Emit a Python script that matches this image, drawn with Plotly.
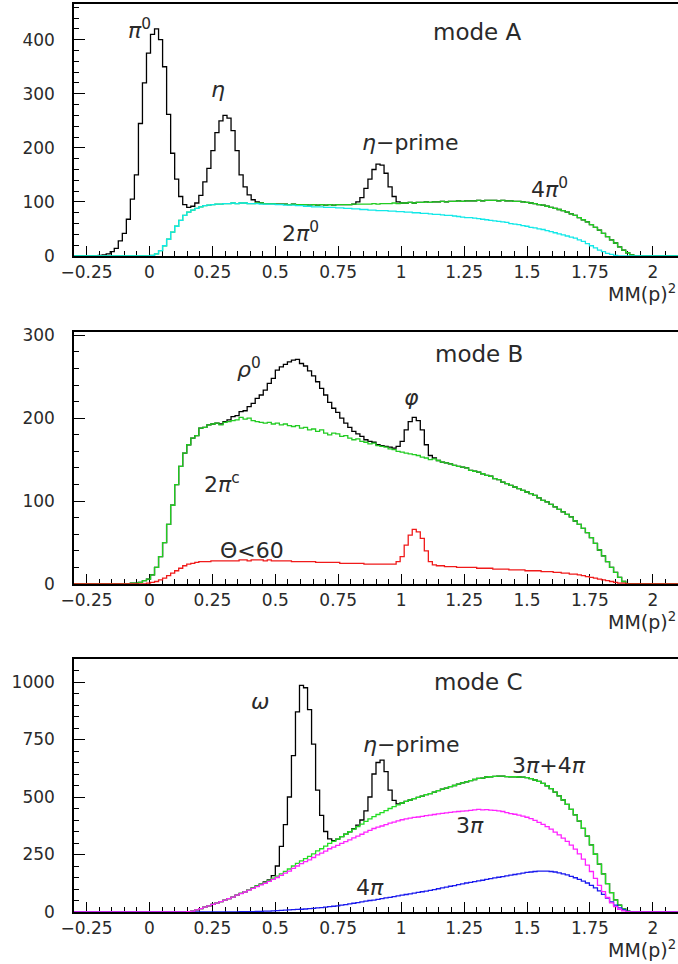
import plotly.graph_objects as go

# ---------------------------------------------------------------
# Missing-mass-squared spectra MM(p)^2, 150 bins from -0.3 to 2.1
# ---------------------------------------------------------------
x_lo, x_hi, n_bins = -0.3, 2.1, 150

# ---------------- mode A ----------------
# total background (2pi0 + 4pi0)
bkg_A = [
    0, 0, 0, 0, 0, 0, 0, 0, 0, 0,
    0, 0, 0, 0, 0, 0, 0, 0, 0, 1,
    4, 10, 19, 31, 44, 55, 66, 75, 81, 85,
    88, 91, 93, 94, 95, 96, 96, 97, 97, 98,
    97, 98, 98, 97, 97, 98, 98, 97, 97, 97,
    96, 96, 96, 95, 96, 95, 95, 95, 94, 95,
    94, 95, 94, 95, 94, 95, 95, 95, 95, 96,
    96, 96, 96, 96, 97, 96, 97, 97, 97, 98,
    97, 98, 98, 99, 98, 99, 99, 100, 99, 100,
    100, 101, 100, 101, 101, 102, 101, 102, 102, 102,
    103, 102, 103, 103, 103, 102, 103, 102, 102, 101,
    101, 100, 99, 98, 97, 95, 94, 92, 90, 88,
    86, 84, 81, 78, 75, 71, 67, 63, 58, 53,
    48, 42, 36, 30, 24, 17, 11, 6, 2, 0,
    0, 0, 0, 0, 0, 0, 0, 0, 0, 0,
]
# 2pi0 component
twopi0_A = [
    0, 0, 0, 0, 0, 0, 0, 0, 0, 0,
    0, 0, 0, 0, 0, 0, 0, 0, 0, 1,
    4, 10, 19, 31, 44, 55, 66, 75, 81, 85,
    88, 91, 93, 94, 95, 96, 96, 97, 97, 98,
    97, 98, 98, 97, 97, 97, 96, 96, 96, 96,
    95, 95, 94, 94, 94, 93, 93, 92, 92, 91,
    91, 91, 90, 90, 90, 89, 89, 88, 88, 87,
    87, 86, 86, 85, 85, 84, 84, 84, 83, 83,
    82, 82, 81, 81, 80, 80, 79, 79, 78, 77,
    77, 76, 75, 75, 74, 73, 72, 71, 71, 70,
    69, 68, 67, 66, 65, 64, 63, 62, 60, 59,
    58, 56, 55, 53, 52, 50, 49, 47, 45, 43,
    41, 39, 37, 35, 33, 30, 27, 23, 19, 15,
    11, 8, 5, 3, 1, 0, 0, 0, 0, 0,
    0, 0, 0, 0, 0, 0, 0, 0, 0, 0,
]
# resonance signal (pi0, eta, eta') above the background
signal_A = [
    0, 0, 0, 0, 0, 0, 1, 2, 4, 8,
    14, 28, 42, 68, 105, 150, 245, 320, 375, 409,
    416, 390, 331, 231, 146, 87, 44, 20, 9, 7,
    10, 21, 44, 68, 100, 132, 154, 163, 158, 134,
    98, 52, 30, 16, 7, 2, 0, 0, 0, 0,
    0, 0, 0, 0, 0, 0, 0, 0, 0, 0,
    0, 0, 0, 0, 0, 0, 0, 0, 0, 0,
    4, 12, 29, 46, 63, 74, 71, 56, 31, 12,
    3, 0, 0, 0, 0, 0, 0, 0, 0, 0,
    0, 0, 0, 0, 0, 0, 0, 0, 0, 0,
    0, 0, 0, 0, 0, 0, 0, 0, 0, 0,
    0, 0, 0, 0, 0, 0, 0, 0, 0, 0,
    0, 0, 0, 0, 0, 0, 0, 0, 0, 0,
    0, 0, 0, 0, 0, 0, 0, 0, 0, 0,
    0, 0, 0, 0, 0, 0, 0, 0, 0, 0,
]

# ---------------- mode B ----------------
# 2pi charged background
twopic_B = [
    0, 0, 0, 0, 0, 0, 0, 0, 0, 0,
    0, 0, 0, 0, 1, 1, 2, 4, 6, 11,
    20, 33, 50, 72, 95, 120, 142, 158, 168, 176,
    179, 188, 189, 192, 193, 194, 192, 195, 196, 197,
    198, 201, 199, 200, 197, 196, 195, 194, 195, 193,
    194, 192, 193, 191, 190, 191, 188, 189, 186, 187,
    184, 186, 182, 180, 182, 181, 178, 179, 176, 174,
    175, 172, 171, 169, 170, 167, 166, 165, 163, 162,
    160, 159, 158, 157, 156, 155, 153, 152, 150, 151,
    149, 147, 146, 145, 143, 142, 141, 140, 137, 136,
    135, 133, 131, 130, 127, 126, 123, 121, 119, 117,
    115, 113, 111, 109, 107, 104, 101, 99, 96, 93,
    90, 87, 84, 81, 76, 72, 67, 62, 56, 49,
    41, 34, 27, 20, 14, 8, 3, 0, 0, 0,
    0, 0, 0, 0, 0, 0, 0, 0, 0, 0,
]
# rho0 and phi signal above the 2pi background
signal_B = [
    0, 0, 0, 0, 0, 0, 0, 0, 0, 0,
    0, 0, 0, 0, 0, 0, 0, 0, 0, 0,
    0, 0, 0, 0, 0, 0, 0, 0, 0, 0,
    0, 0, 0, 0, 0, 0, 1, 1, 2, 5,
    5, 7, 10, 14, 21, 28, 33, 40, 47, 55,
    64, 70, 72, 77, 80, 80, 78, 74, 71, 64,
    60, 50, 46, 39, 30, 26, 22, 15, 13, 10,
    6, 6, 3, 3, 1, 1, 1, 1, 2, 2,
    6, 13, 28, 39, 45, 42, 33, 16, 5, 1,
    0, 0, 0, 0, 0, 0, 0, 0, 0, 0,
    0, 0, 0, 0, 0, 0, 0, 0, 0, 0,
    0, 0, 0, 0, 0, 0, 0, 0, 0, 0,
    0, 0, 0, 0, 0, 0, 0, 0, 0, 0,
    0, 0, 0, 0, 0, 0, 0, 0, 0, 0,
    0, 0, 0, 0, 0, 0, 0, 0, 0, 0,
]
# events with Theta < 60
theta60_B = [
    0, 0, 0, 0, 0, 0, 0, 0, 0, 0,
    0, 0, 0, 0, 0, 0, 0, 0, 1, 2,
    3, 5, 7, 10, 13, 16, 19, 22, 24, 25,
    26, 27, 27, 27, 28, 28, 28, 28, 28, 28,
    28, 29, 29, 28, 29, 29, 29, 28, 29, 28,
    28, 28, 28, 28, 27, 27, 27, 27, 27, 27,
    26, 26, 26, 26, 26, 26, 25, 25, 25, 25,
    25, 25, 24, 24, 24, 24, 24, 24, 24, 24,
    27, 33, 47, 59, 66, 63, 55, 40, 27, 23,
    22, 22, 21, 21, 21, 20, 20, 20, 20, 20,
    19, 19, 19, 19, 18, 18, 18, 18, 17, 17,
    17, 17, 16, 16, 16, 16, 15, 15, 15, 14,
    14, 13, 13, 12, 12, 11, 10, 9, 8, 7,
    6, 5, 4, 3, 2, 1, 1, 0, 0, 0,
    0, 0, 0, 0, 0, 0, 0, 0, 0, 0,
]

# ---------------- mode C ----------------
# 3pi component
threepi_C = [
    0, 0, 0, 0, 0, 0, 0, 0, 0, 0,
    0, 0, 0, 0, 0, 0, 0, 0, 0, 0,
    0, 0, 0, 0, 0, 0, 0, 0, 1, 4,
    9, 15, 21, 27, 33, 39, 45, 52, 58, 65,
    73, 80, 87, 95, 103, 110, 118, 125, 133, 142,
    150, 159, 169, 178, 190, 200, 210, 219, 227, 237,
    248, 256, 265, 275, 282, 290, 298, 306, 314, 322,
    330, 338, 347, 355, 363, 369, 374, 380, 386, 391,
    396, 401, 405, 408, 411, 413, 416, 419, 421, 424,
    427, 429, 431, 433, 435, 437, 439, 440, 442, 444,
    446, 444, 445, 443, 442, 440, 437, 432, 428, 425,
    421, 417, 412, 406, 398, 390, 381, 371, 360, 347,
    335, 321, 307, 291, 273, 253, 230, 204, 176, 146,
    116, 89, 63, 40, 23, 12, 5, 1, 0, 0,
    0, 0, 0, 0, 0, 0, 0, 0, 0, 0,
]
# 4pi component
fourpi_C = [
    0, 0, 0, 0, 0, 0, 0, 0, 0, 0,
    0, 0, 0, 0, 0, 0, 0, 0, 0, 0,
    0, 0, 0, 0, 0, 0, 0, 0, 0, 0,
    0, 0, 0, 0, 0, 0, 0, 0, 0, 0,
    0, 1, 1, 2, 2, 3, 3, 4, 4, 5,
    6, 7, 8, 9, 10, 11, 12, 13, 15, 16,
    18, 19, 21, 23, 25, 27, 30, 32, 35, 38,
    41, 44, 47, 50, 52, 55, 58, 61, 64, 67,
    70, 73, 76, 79, 82, 85, 88, 91, 94, 97,
    101, 105, 108, 112, 115, 119, 122, 126, 129, 132,
    135, 138, 142, 145, 148, 151, 154, 157, 160, 163,
    166, 169, 172, 174, 176, 178, 178, 178, 176, 174,
    170, 166, 161, 155, 149, 142, 134, 126, 116, 105,
    92, 77, 60, 44, 30, 18, 9, 3, 0, 0,
    0, 0, 0, 0, 0, 0, 0, 0, 0, 0,
]
# omega and eta' signal above the 3pi+4pi background
signal_C = [
    0, 0, 0, 0, 0, 0, 0, 0, 0, 0,
    0, 0, 0, 0, 0, 0, 0, 0, 0, 0,
    0, 0, 0, 0, 0, 0, 0, 0, 0, 0,
    0, 0, 0, 0, 0, 0, 0, 0, 0, 0,
    0, 0, 0, 0, 0, 0, 0, 2, 3, 11,
    44, 119, 203, 313, 480, 659, 763, 743, 638, 477,
    264, 145, 64, 20, 3, 0, 0, 0, 0, 2,
    7, 18, 46, 95, 185, 226, 228, 169, 80, 27,
    4, 0, 0, 0, 0, 0, 0, 0, 0, 0,
    0, 0, 0, 0, 0, 0, 0, 0, 0, 0,
    0, 0, 0, 0, 0, 0, 0, 0, 0, 0,
    0, 0, 0, 0, 0, 0, 0, 0, 0, 0,
    0, 0, 0, 0, 0, 0, 0, 0, 0, 0,
    0, 0, 0, 0, 0, 0, 0, 0, 0, 0,
    0, 0, 0, 0, 0, 0, 0, 0, 0, 0,
]

# axis ticks
x_tick_vals = [-0.25, 0, 0.25, 0.5, 0.75, 1, 1.25, 1.5, 1.75, 2]
x_tick_text = ["\u22120.25", "0", "0.25", "0.5", "0.75", "1", "1.25", "1.5", "1.75", "2"]
y_ticks_A = [0, 100, 200, 300, 400]
y_ticks_B = [0, 100, 200, 300]
y_ticks_C = [0, 250, 500, 750, 1000]
y_range_A = [0, 466]
y_range_B = [0, 304]
y_range_C = [0, 1100]

# derived histograms
total_A = [b + s for b, s in zip(bkg_A, signal_A)]
total_B = [b + s for b, s in zip(twopic_B, signal_B)]
sum34_C = [a + b for a, b in zip(threepi_C, fourpi_C)]
total_C = [b + s for b, s in zip(sum34_C, signal_C)]

edges = [x_lo + (x_hi - x_lo) * k / n_bins for k in range(n_bins + 1)]

W, H = 678, 964
FONT = "DejaVu Sans"
TXT = "#2a2a2a"

fig = go.Figure()


def hist(vals, color, xa, ya, width=1.3):
    fig.add_trace(go.Scatter(
        x=edges, y=list(vals) + [vals[-1]], mode="lines",
        line=dict(color=color, width=width, shape="hv"),
        xaxis=xa, yaxis=ya, hoverinfo="skip", showlegend=False))


# mode A
hist(total_A, "black", "x", "y")
hist(bkg_A, "#22cc22", "x", "y")
hist(twopi0_A, "#11e8e8", "x", "y")
# mode B
hist(total_B, "black", "x2", "y2")
hist(twopic_B, "#22cc22", "x2", "y2")
hist(theta60_B, "#f01a1a", "x2", "y2")
# mode C
hist(total_C, "black", "x3", "y3")
hist(sum34_C, "#22dd22", "x3", "y3")
hist(fourpi_C, "#1a1aee", "x3", "y3")
hist(threepi_C, "#ff22ff", "x3", "y3")


def px_domain_y(top, bottom):
    return [1 - bottom / H, 1 - top / H]


x_dom = [74 / W, 1.0]
panels = [
    ("", px_domain_y(4, 256), y_range_A, y_ticks_A, 20),
    ("2", px_domain_y(332, 584), y_range_B, y_ticks_B, 20),
    ("3", px_domain_y(659, 912), y_range_C, y_ticks_C, 50),
]

layout = dict(
    width=W, height=H,
    margin=dict(l=0, r=0, t=0, b=0, pad=0, autoexpand=False),
    paper_bgcolor="white", plot_bgcolor="white", showlegend=False,
)
for suf, ydom, yr, yt, ymin in panels:
    layout["xaxis" + suf] = dict(
        domain=x_dom, range=[x_lo, x_hi], anchor="y" + suf,
        automargin=False,
        showline=True, linecolor="black", linewidth=1.5, mirror=True,
        showgrid=False, zeroline=False, layer="below traces",
        ticks="inside", ticklen=10, tickwidth=1.2, tickcolor="black",
        tickvals=x_tick_vals, ticktext=x_tick_text,
        tickfont=dict(family=FONT, size=17, color=TXT),
        minor=dict(dtick=0.05, tick0=0, ticks="inside", ticklen=5,
                   tickwidth=1, tickcolor="black", showgrid=False),
        fixedrange=True,
    )
    layout["yaxis" + suf] = dict(
        domain=ydom, range=yr, anchor="x" + suf,
        automargin=False,
        showline=True, linecolor="black", linewidth=1.5, mirror=False,
        showgrid=False, zeroline=False, layer="below traces",
        ticks="inside", ticklen=11, tickwidth=1.2, tickcolor="black",
        tickvals=yt, ticklabelstandoff=14,
        tickfont=dict(family=FONT, size=17, color=TXT),
        minor=dict(dtick=ymin, tick0=0, ticks="inside", ticklen=5,
                   tickwidth=1, tickcolor="black", showgrid=False),
        fixedrange=True,
    )
fig.update_layout(**layout)


def label(text, x, y, ax="", size=22):
    fig.add_annotation(
        text=text, x=x, y=y, xref="x" + ax, yref="y" + ax,
        showarrow=False, xanchor="center", yanchor="middle",
        font=dict(family=FONT, size=size, color=TXT))


# mode A labels
label("mode A", 1.304, 415, size=23)
label("<i>\u03c0</i><sup>0</sup>", -0.04, 419)
label("<i>\u03b7</i>", 0.272, 307)
label("<i>\u03b7</i>\u2212prime", 1.034, 209)
label("4<i>\u03c0</i><sup>0</sup>", 1.589, 126)
label("2<i>\u03c0</i><sup>0</sup>", 0.601, 44)
# mode B labels
label("mode B", 1.308, 278, "2", size=23)
label("<i>\u03c1</i><sup>0</sup>", 0.395, 260, "2")
label("<i>\u03c6</i>", 1.042, 225, "2")
label("2<i>\u03c0</i><sup>c</sup>", 0.288, 122, "2")
label("\u0398&lt;60", 0.407, 41, "2")
# mode C labels
label("mode C", 1.308, 1000, "3", size=23)
label("<i>\u03c9</i>", 0.438, 917, "3")
label("<i>\u03b7</i>\u2212prime", 1.038, 730, "3")
label("3<i>\u03c0</i>+4<i>\u03c0</i>", 1.589, 635, "3")
label("3<i>\u03c0</i>", 1.272, 378, "3")
label("4<i>\u03c0</i>", 0.875, 108, "3")

# x-axis titles at the right end of each panel
for suf in ["", "2", "3"]:
    fig.add_annotation(
        text="MM(p)<sup>2</sup>", x=1.0, y=-0.145,
        xref="paper", yref="y" + suf + " domain",
        showarrow=False, xanchor="right", yanchor="middle",
        font=dict(family=FONT, size=19, color=TXT))

fig.write_html("out.html")
